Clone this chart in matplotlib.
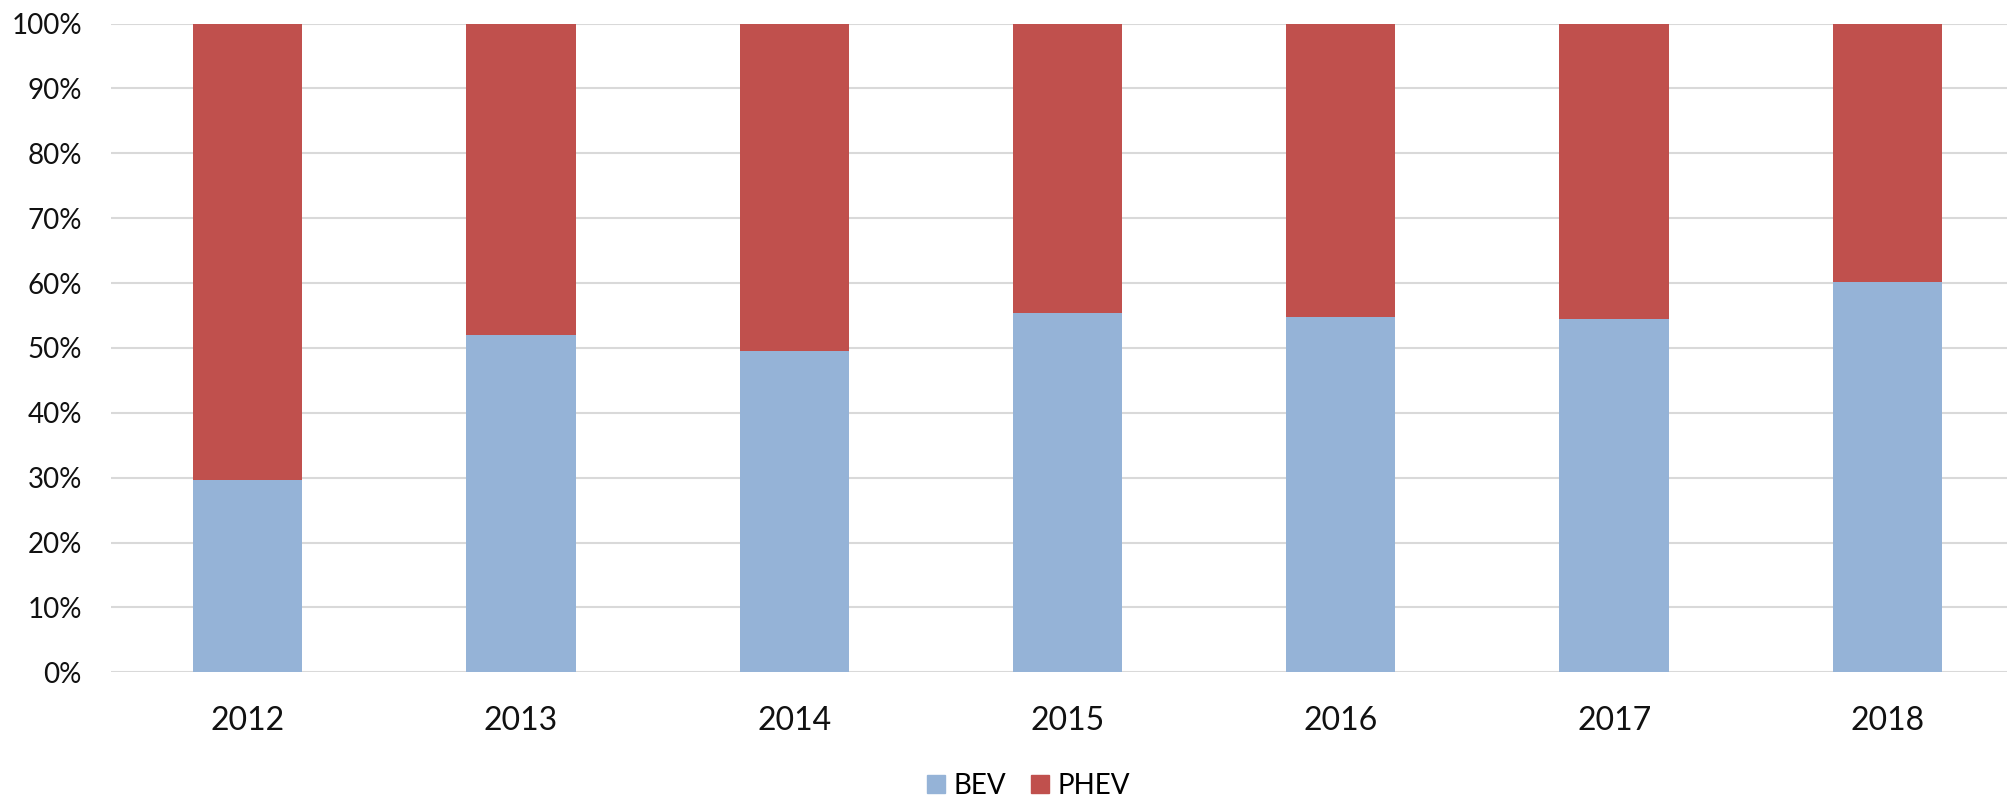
import numpy as np
import matplotlib.pyplot as plt
from matplotlib.patches import Patch
from matplotlib.ticker import PercentFormatter

years = ["2012", "2013", "2014", "2015", "2016", "2017", "2018"]
bev = [29.7, 52.0, 49.6, 55.4, 54.8, 54.4, 60.1]
phev = [100 - b for b in bev]

BEV_COLOR = "#95b3d7"
PHEV_COLOR = "#c0504d"

plt.rcParams["font.family"] = ["Lato", "DejaVu Sans"]

fig = plt.figure(figsize=(20.08, 7.97), dpi=100)
ax = fig.add_axes([0.0553, 0.1565, 0.9527, 0.8139])

x = np.arange(len(years))
ax.bar(x, bev, width=0.4, color=BEV_COLOR, zorder=2)
ax.bar(x, phev, width=0.4, bottom=bev, color=PHEV_COLOR, zorder=2)

ax.set_xlim(-0.5, len(years) - 0.5)
ax.set_ylim(0, 100)
ax.set_yticks(np.arange(0, 101, 10))
ax.yaxis.set_major_formatter(PercentFormatter(decimals=0))
ax.set_xticks(x)
ax.set_xticklabels(years)

ax.grid(axis="y", color="#d9d9d9", linewidth=1.5, zorder=0)
ax.tick_params(axis="y", length=0, pad=21, labelsize=20, labelcolor="#111111")
ax.tick_params(axis="x", length=0, pad=24, labelsize=23, labelcolor="#111111")
for side in ["top", "right", "left", "bottom"]:
    ax.spines[side].set_visible(False)

handles = [Patch(color=BEV_COLOR, label="BEV"), Patch(color=PHEV_COLOR, label="PHEV")]
fig.legend(handles=handles, loc="center", bbox_to_anchor=(0.512, 0.014),
           ncol=2, frameon=False, fontsize=20, handlelength=0.65, handleheight=0.65,
           handletextpad=0.3, columnspacing=0.9, borderpad=0)

fig.savefig("out.png", dpi=100)
